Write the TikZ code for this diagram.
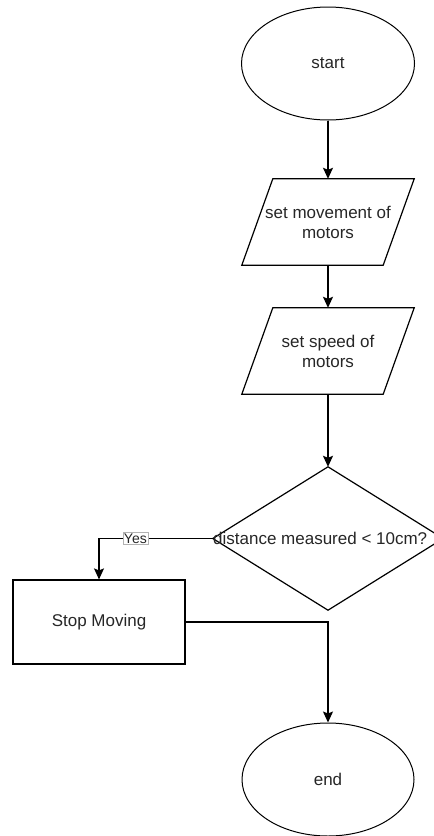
\documentclass[tikz,border=0pt]{standalone}
\usepackage{fontspec}
\setmainfont{Liberation Sans}
\usetikzlibrary{shapes.geometric,arrows.meta}
\begin{document}
\begin{tikzpicture}[x=1pt,y=-1pt,
  base/.style={line width=1.2pt,draw=black},
  txt/.style={font=\fontsize{17}{20}\selectfont,text=black!85,align=center},
  term/.style={base,line width=1pt,ellipse,inner sep=0pt,minimum width=173pt,minimum height=113pt,txt},
  io/.style={draw=none,inner sep=0pt,minimum width=141pt,minimum height=86pt,txt},
  proc/.style={base,rectangle,inner sep=0pt,minimum width=172pt,minimum height=84pt,txt},
  conn/.style={line width=1.2pt,-{Stealth[length=11pt,width=10pt,inset=2pt]}},
  lbl/.style={font=\fontsize{14}{16}\selectfont,text=black!85,fill=white,draw=black!30,line width=0.5pt,inner sep=1pt}
]
\useasboundingbox (0,0) rectangle (434,836);
\node[term] (start) at (328,63.5) {start};
\node[io] (p1) at (328,222) {set movement of\\motors};
\draw[base] ([xshift=15.5pt]p1.north west) -- ([xshift=15.5pt]p1.north east)
  -- ([xshift=-15.5pt]p1.south east) -- ([xshift=-15.5pt]p1.south west) -- cycle;
\node[io] (p2) at (328,351) {set speed of\\motors};
\draw[base] ([xshift=15.5pt]p2.north west) -- ([xshift=15.5pt]p2.north east)
  -- ([xshift=-15.5pt]p2.south east) -- ([xshift=-15.5pt]p2.south west) -- cycle;
\node[draw=none,inner sep=0pt,minimum width=230pt,minimum height=143pt] (d) at (328,538.5) {};
\draw[base] (d.north) -- (d.east) -- (d.south) -- (d.west) -- cycle;
\node[txt,anchor=west,inner sep=0pt] (dt) at (213,538) {distance measured < 10cm?};
\node[proc] (r) at (99,622) {Stop Moving};
\node[term,minimum width=172pt] (e) at (328,779.5) {end};
\draw[conn] (start.south) -- (p1.north);
\draw[conn] (p1.south) -- (p2.north);
\draw[conn] (p2.south) -- (d.north);
\draw[conn] (d.west) -| node[lbl,pos=0.34] {Yes} (r.north);
\draw[conn] (r.east) -| (e.north);
\end{tikzpicture}
\end{document}
